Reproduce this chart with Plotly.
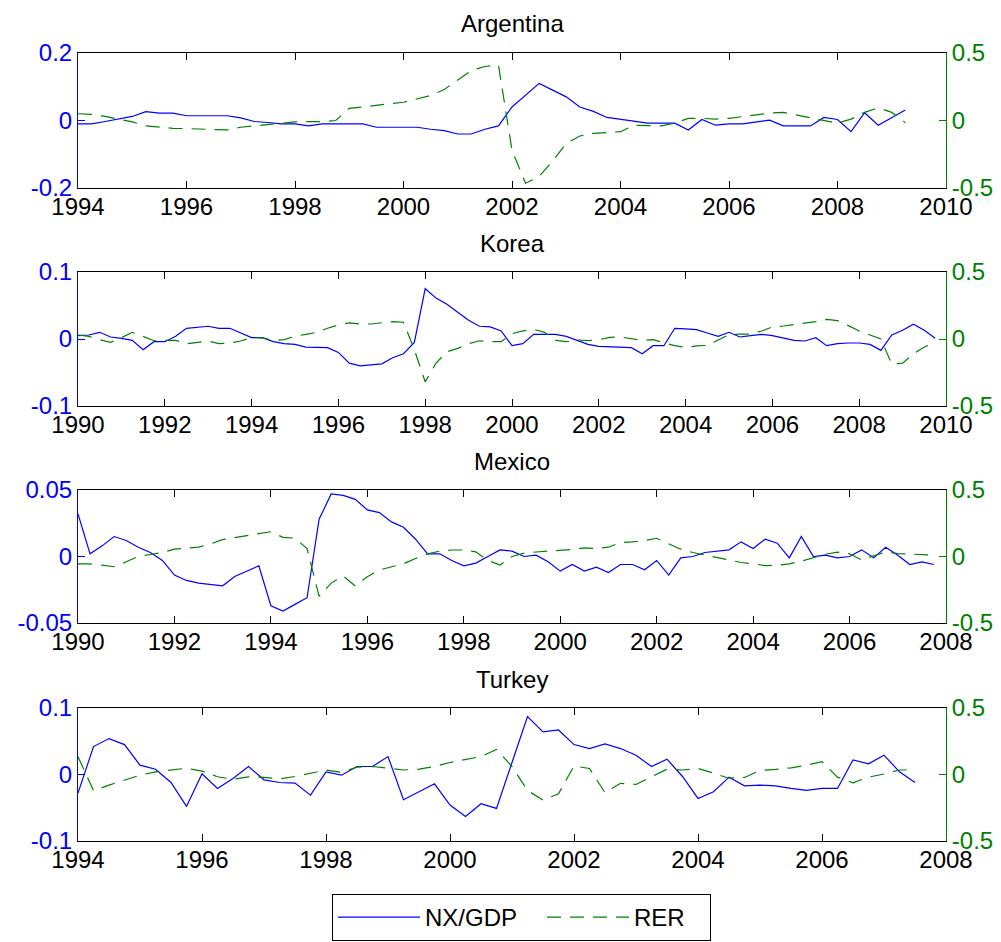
import numpy as np
import plotly.graph_objects as go

FONT = "Liberation Sans, Arial, sans-serif"
BLUE = "#0000FF"
GREEN = "#008000"

countries = ["Argentina", "Korea", "Mexico", "Turkey"]
series_names = ["NX/GDP", "RER"]
start_years = [1994.0, 1990.0, 1990.0, 1994.0]
x_ranges = [(1994, 2010), (1990, 2010), (1990, 2008), (1994, 2008)]
nx_tickvals = [[-0.2, 0, 0.2], [-0.1, 0, 0.1], [-0.05, 0, 0.05], [-0.1, 0, 0.1]]
nx_ticktext = [["-0.2", "0", "0.2"], ["-0.1", "0", "0.1"],
               ["-0.05", "0", "0.05"], ["-0.1", "0", "0.1"]]
rer_tickvals = [-0.5, 0, 0.5]
rer_ticktext = ["-0.5", "0", "0.5"]

# Quarterly series (first value = first quarter of start year)
arg_nx = [-0.010, -0.010, -0.003, 0.005,
          0.012, 0.026, 0.022, 0.022,
          0.014, 0.014, 0.014, 0.014,
          0.008, -0.003, -0.006, -0.010,
          -0.010, -0.016, -0.010, -0.010,
          -0.010, -0.010, -0.020, -0.020,
          -0.020, -0.020, -0.026, -0.030,
          -0.040, -0.040, -0.026, -0.016,
          0.040, 0.075, 0.110, 0.090,
          0.070, 0.040, 0.027, 0.009,
          0.003, -0.002, -0.008, -0.008,
          -0.008, -0.028, 0.003, -0.014,
          -0.010, -0.010, -0.005, 0.001,
          -0.016, -0.016, -0.016, 0.009,
          0.003, -0.033, 0.023, -0.014,
          0.008, 0.031]
arg_rer = [0.050, 0.045, 0.030, 0.010,
           -0.010, -0.040, -0.050, -0.058,
           -0.060, -0.065, -0.070, -0.070,
           -0.050, -0.040, -0.033, -0.020,
           -0.010, -0.009, -0.009, 0.000,
           0.090, 0.100, 0.115, 0.125,
           0.135, 0.160, 0.185, 0.230,
           0.300, 0.370, 0.400, 0.410,
           -0.220, -0.465, -0.415, -0.300,
           -0.170, -0.115, -0.095, -0.090,
           -0.083, -0.035, -0.040, -0.040,
           -0.020, 0.016, 0.016, 0.010,
           0.016, 0.030, 0.040, 0.055,
           0.060, 0.040, 0.016, -0.005,
           -0.020, 0.010, 0.060, 0.095,
           0.060, -0.016]

kor_nx = [0.005, 0.006, 0.010, 0.003,
          0.001, -0.002, -0.016, -0.004,
          -0.004, 0.004, 0.016, 0.017,
          0.019, 0.016, 0.016, 0.009,
          0.002, 0.002, -0.004, -0.007,
          -0.008, -0.012, -0.012, -0.013,
          -0.020, -0.036, -0.040, -0.039,
          -0.037, -0.028, -0.022, -0.005,
          0.075, 0.061, 0.052, 0.040,
          0.028, 0.019, 0.018, 0.012,
          -0.010, -0.007, 0.007, 0.007,
          0.007, 0.004, -0.002, -0.008,
          -0.011, -0.012, -0.012, -0.013,
          -0.022, -0.010, -0.010, 0.016,
          0.015, 0.014, 0.009, 0.004,
          0.010, 0.003, 0.005, 0.007,
          0.005, 0.001, -0.002, -0.003,
          0.002, -0.010, -0.007, -0.006,
          -0.006, -0.008, -0.017, 0.006,
          0.013, 0.022, 0.013, 0.001]
kor_rer = [0.030, 0.020, -0.005, -0.025,
           0.010, 0.050, 0.020, -0.013,
           -0.010, -0.010, -0.035, -0.025,
           -0.015, -0.035, -0.030, -0.015,
           0.010, 0.008, -0.010, -0.005,
           0.020, 0.035, 0.050, 0.080,
           0.105, 0.120, 0.112, 0.112,
           0.120, 0.130, 0.125, -0.080,
           -0.320, -0.180, -0.095, -0.070,
           -0.035, -0.013, -0.020, -0.020,
           0.040, 0.060, 0.072, 0.050,
           -0.010, -0.020, -0.007, -0.012,
           -0.005, 0.012, 0.015, 0.005,
           -0.010, -0.005, -0.025, -0.050,
           -0.062, -0.052, -0.048, -0.010,
           0.032, 0.037, 0.037, 0.060,
           0.090, 0.097, 0.108, 0.120,
           0.130, 0.147, 0.137, 0.100,
           0.060, 0.030, 0.000, -0.187,
           -0.180, -0.110, -0.060, -0.027]

mex_nx = [0.032, 0.002, 0.008, 0.015,
          0.012, 0.007, 0.003, -0.003,
          -0.014, -0.018, -0.020, -0.021,
          -0.022, -0.015, -0.011, -0.007,
          -0.037, -0.041, -0.036, -0.031,
          0.028, 0.047, 0.046, 0.043,
          0.035, 0.033, 0.026, 0.022,
          0.013, 0.002, 0.002, -0.003,
          -0.007, -0.005, 0.000, 0.005,
          0.004, 0.000, 0.001, -0.004,
          -0.011, -0.006, -0.011, -0.008,
          -0.012, -0.006, -0.006, -0.010,
          -0.003, -0.014, -0.001, 0.000,
          0.003, 0.004, 0.005, 0.011,
          0.006, 0.013, 0.010, -0.001,
          0.015, 0.000, 0.001, -0.001,
          0.000, 0.005, -0.001, 0.007,
          0.001, -0.006, -0.004, -0.006]
mex_rer = [-0.056, -0.056, -0.065, -0.077,
           -0.040, 0.000, 0.015, 0.030,
           0.055, 0.062, 0.070, 0.095,
           0.127, 0.142, 0.155, 0.170,
           0.186, 0.144, 0.138, 0.060,
           -0.300, -0.200, -0.147, -0.222,
           -0.152, -0.101, -0.080, -0.055,
           -0.015, 0.020, 0.040, 0.049,
           0.049, 0.035, -0.030, -0.064,
           0.000, 0.025, 0.034, 0.040,
           0.050, 0.053, 0.065, 0.060,
           0.070, 0.105, 0.110, 0.120,
           0.137, 0.094, 0.055, 0.030,
           0.010, -0.005, -0.025, -0.045,
           -0.055, -0.068, -0.066, -0.055,
           -0.035, -0.010, 0.017, 0.033,
           0.020, -0.026, 0.004, 0.034,
           0.022, 0.019, 0.015, 0.011]

tur_nx = [-0.028, 0.042, 0.054, 0.045,
          0.014, 0.008, -0.012, -0.048,
          0.001, -0.021, -0.006, 0.012,
          -0.008, -0.012, -0.013, -0.031,
          0.004, -0.001, 0.012, 0.012,
          0.027, -0.038, -0.026, -0.014,
          -0.046, -0.063, -0.044, -0.051,
          0.018, 0.087, 0.064, 0.067,
          0.045, 0.039, 0.046, 0.039,
          0.029, 0.012, 0.023, -0.003,
          -0.036, -0.026, -0.004, -0.017,
          -0.016, -0.017, -0.021, -0.024,
          -0.021, -0.021, 0.022, 0.016,
          0.029, 0.004, -0.012]
tur_rer = [0.134, -0.122, -0.080, -0.040,
           -0.005, 0.020, 0.035, 0.047,
           0.025, -0.017, -0.036, -0.018,
           -0.021, -0.033, -0.015, 0.010,
           0.034, 0.016, 0.055, 0.060,
           0.045, 0.034, 0.040, 0.060,
           0.090, 0.110, 0.135, 0.189,
           0.060, -0.120, -0.192, -0.145,
           0.064, 0.045, -0.137, -0.066,
           -0.075, -0.017, 0.040, 0.034,
           0.045, 0.010, -0.028, -0.022,
           0.030, 0.038, 0.050, 0.070,
           0.096, -0.020, -0.062, -0.020,
           0.004, 0.034, 0.034]

nx_series = [arg_nx, kor_nx, mex_nx, tur_nx]
rer_series = [arg_rer, kor_rer, mex_rer, tur_rer]

W, H = 1001, 942
x_dom = [78 / W, 946 / W]
panel_px = [(53, 188), (272, 406), (490, 623), (708, 841)]
PAD = "\u00a0" * 3  # spacing after legend labels

fig = go.Figure()
layout = dict(
    width=W, height=H,
    margin=dict(l=0, r=0, t=0, b=0, autoexpand=False),
    paper_bgcolor="white", plot_bgcolor="white",
    font=dict(family=FONT, size=24, color="black"),
    showlegend=True,
    legend=dict(orientation="h", x=332 / W, xanchor="left",
                y=1 - 894 / H, yanchor="top",
                bordercolor="black", borderwidth=1, bgcolor="white",
                font=dict(family=FONT, size=24, color="black"),
                itemwidth=82),
    annotations=[],
)

for i in range(4):
    top, bot = panel_px[i]
    ydom = [1 - bot / H, 1 - top / H]
    xn = "x" if i == 0 else f"x{i + 1}"
    yl = "y" if i == 0 else f"y{2 * i + 1}"
    yr = f"y{2 * i + 2}"
    xkey = "xaxis" if i == 0 else f"xaxis{i + 1}"
    ylkey = "yaxis" if i == 0 else f"yaxis{2 * i + 1}"
    yrkey = f"yaxis{2 * i + 2}"

    nx = nx_series[i]
    rer = rer_series[i]
    x_nx = start_years[i] + 0.25 * np.arange(len(nx))
    x_rer = start_years[i] + 0.25 * np.arange(len(rer))

    fig.add_trace(go.Scatter(x=x_nx, y=nx, mode="lines", name=series_names[0] + PAD,
                             line=dict(color=BLUE, width=1.2),
                             xaxis=xn, yaxis=yl, showlegend=(i == 0)))
    fig.add_trace(go.Scatter(x=x_rer, y=rer, mode="lines", name=series_names[1] + PAD,
                             line=dict(color=GREEN, width=1.2, dash="14px,9px"),
                             xaxis=xn, yaxis=yr, showlegend=(i == 0)))

    layout[xkey] = dict(domain=x_dom, range=list(x_ranges[i]), anchor=yl,
                        tickmode="linear", tick0=x_ranges[i][0], dtick=2,
                        ticks="inside", ticklen=7, tickcolor="black",
                        showline=True, linecolor="black", linewidth=1,
                        mirror="ticks", showgrid=False, zeroline=False,
                        automargin=False, ticklabelstandoff=-3,
                        tickfont=dict(family=FONT, size=24, color="black"))
    layout[ylkey] = dict(domain=ydom, range=[nx_tickvals[i][0], nx_tickvals[i][-1]],
                         anchor=xn, tickmode="array", tickvals=nx_tickvals[i],
                         ticktext=nx_ticktext[i], ticks="inside", ticklen=7,
                         tickcolor=BLUE, showline=True, linecolor=BLUE,
                         showgrid=False, zeroline=False, automargin=False,
                         tickfont=dict(family=FONT, size=24, color=BLUE))
    layout[yrkey] = dict(overlaying=yl, side="right", anchor=xn,
                         range=[-0.5, 0.5], tickmode="array",
                         tickvals=rer_tickvals, ticktext=rer_ticktext,
                         ticks="inside", ticklen=7, tickcolor=GREEN,
                         showline=True, linecolor=GREEN,
                         showgrid=False, zeroline=False, automargin=False,
                         tickfont=dict(family=FONT, size=24, color=GREEN))
    layout["annotations"].append(dict(
        text=countries[i], xref="paper", yref="paper",
        x=(x_dom[0] + x_dom[1]) / 2, y=1 - (top - 29) / H,
        xanchor="center", yanchor="middle", showarrow=False,
        font=dict(family=FONT, size=24, color="black")))

fig.update_layout(**layout)
fig.write_html("out.html")
